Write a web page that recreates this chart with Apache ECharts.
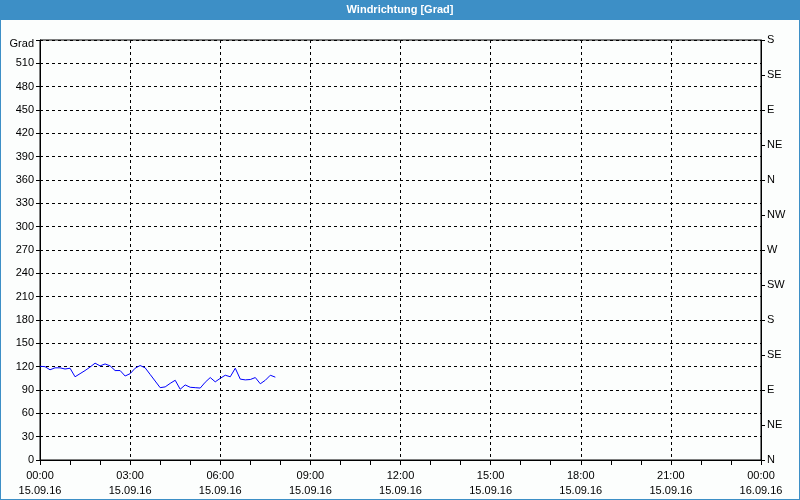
<!DOCTYPE html>
<html><head><meta charset="utf-8">
<script src="https://cdn.jsdelivr.net/npm/echarts@6/dist/echarts.min.js"></script>
<style>html,body{margin:0;padding:0;background:#fcfefd;}#c{width:800px;height:500px;}</style>
</head><body><div id="c"></div>
<script>
var titleText = 'Windrichtung [Grad]';
var timesMin = [0,10,20,30,40,50,60,70,80,90,100,110,120,130,140,150,160,170,180,190,200,210,220,230,240,250,260,270,280,290,300,310,320,330,340,350,360,370,380,390,400,410,420,430,440,450,460,470];
var values = [120.5,120,116,118.5,118.5,117,118,107,111,115,119.5,124.5,121,123.5,121,115,115,108,111,118,121.5,118.5,110,101.5,93,94,98.5,102.5,91,96.5,93.5,93,92.5,100,106,100.5,105,109,107,118,104,103,103.5,106,98,102.5,109,106.5];
var xTickLabels = ['00:00\n15.09.16','03:00\n15.09.16','06:00\n15.09.16','09:00\n15.09.16','12:00\n15.09.16','15:00\n15.09.16','18:00\n15.09.16','21:00\n15.09.16','00:00\n16.09.16'];
var compass = ['N','NE','E','SE','S','SW','W','NW','N','NE','E','SE','S'];

var data = timesMin.map(function(t,i){return [t, values[i]];});
var chart = echarts.init(document.getElementById('c'));
var font = 'Liberation Sans';
chart.setOption({
  backgroundColor: '#fcfefd',
  animation: false,
  grid: {left: 40, right: 39, top: 40, bottom: 40, show: true, borderColor: '#000', borderWidth: 1},
  graphic: [
    {type: 'rect', shape: {x: 0, y: 0, width: 800, height: 20}, style: {fill: '#3d8fc6'}, z: 10},
    {type: 'text', x: 400, y: 10, style: {text: titleText, fill: '#fff', font: 'bold 11px ' + font, textAlign: 'center', textVerticalAlign: 'middle'}, z: 11},
    {type: 'rect', shape: {x: 0, y: 0, width: 800, height: 500}, style: {fill: 'none', stroke: '#3d8fc6', lineWidth: 2}, z: 12}
  ],
  xAxis: {
    type: 'value', min: 0, max: 1440, interval: 180,
    axisLine: {show: true, lineStyle: {color: '#000'}},
    axisTick: {show: true, length: 5, lineStyle: {color: '#000'}},
    minorTick: {show: true, splitNumber: 3, length: 5, lineStyle: {color: '#000'}},
    splitLine: {show: true, lineStyle: {color: '#000', type: [3, 3]}},
    axisLabel: {
      color: '#000', fontFamily: font, fontSize: 11, lineHeight: 15, margin: 8,
      formatter: function(v){ return xTickLabels[Math.round(v/180)]; }
    }
  },
  yAxis: [
    {
      type: 'value', min: 0, max: 540, interval: 30,
      axisLine: {show: true, lineStyle: {color: '#000'}},
      axisTick: {show: true, length: 4, lineStyle: {color: '#000'}},
      splitLine: {show: true, lineStyle: {color: '#000', type: [3, 3]}},
      axisLabel: {color: '#000', fontFamily: font, fontSize: 11, margin: 6,
        formatter: function(v){ return v === 540 ? '{g|Grad}' : String(v); },
        rich: {g: {fontFamily: font, fontSize: 11, color: '#000', padding: [8, 0, 0, 0]}}}
    },
    {
      type: 'value', min: 0, max: 540, interval: 45, position: 'right',
      axisLine: {show: true, lineStyle: {color: '#000'}},
      axisTick: {show: true, length: 4, lineStyle: {color: '#000'}},
      splitLine: {show: false},
      axisLabel: {color: '#000', fontFamily: font, fontSize: 11, margin: 6,
        formatter: function(v){ return compass[Math.round(v/45)]; }}
    }
  ],
  series: [{
    type: 'line', data: data, yAxisIndex: 0, showSymbol: false,
    lineStyle: {color: '#0000ff', width: 1}
  }]
});
</script></body></html>
